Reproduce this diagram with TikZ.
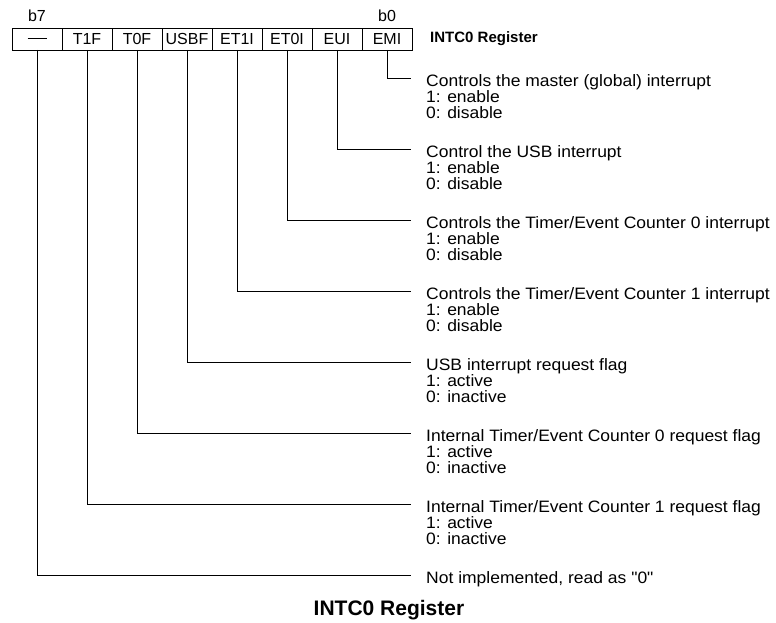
\documentclass[tikz,border=0pt]{standalone}
\usepackage{fontspec}
\setmainfont{Liberation Sans}
\newfontfamily\descfont[FakeStretch=1.06]{Liberation Sans}
\usetikzlibrary{positioning}

\begin{document}
\begin{tikzpicture}[x=1pt,y=-1pt,every node/.style={font=\fontsize{16}{16.5}\selectfont},
  cell/.style={draw,line width=0.9pt,minimum width=50pt,minimum height=22pt,inner sep=0pt,outer sep=0pt},
  desc/.style={align=left,anchor=north west,inner sep=0pt,font=\descfont\fontsize{16.5}{16.2}\selectfont},
  lead/.style={line width=0.8pt}]
\useasboundingbox (0,0) rectangle (776,623);
% register bits b7 ... b0
\node[cell] (c7) at (37,39) {\rule[1pt]{19pt}{0.7pt}};
\foreach \n/\p/\t in {6/7/T1F,5/6/T0F,4/5/USBF,3/4/ET1I,2/3/ET0I,1/2/EUI,0/1/EMI}
  \node[cell,right=0pt of c\p] (c\n) {\t};
\node[above=3pt of c7] (b7) {b7};
\node[above=3pt of c0] (b0) {b0};
\node[anchor=west,inner sep=0pt,font=\bfseries\fontsize{15}{15}\selectfont] (title) at ([xshift=18pt]c0.east) {INTC0 Register};
% bit descriptions
\foreach \n/\t in {0/{Controls the master (global) interrupt\\1: enable\\0: disable},
                   1/{Control the USB interrupt\\1: enable\\0: disable},
                   2/{Controls the Timer/Event Counter 0 interrupt\\1: enable\\0: disable},
                   3/{Controls the Timer/Event Counter 1 interrupt\\1: enable\\0: disable},
                   4/{USB interrupt request flag\\1: active\\0: inactive},
                   5/{Internal Timer/Event Counter 0 request flag\\1: active\\0: inactive},
                   6/{Internal Timer/Event Counter 1 request flag\\1: active\\0: inactive},
                   7/{Not implemented, read as "0"}}{
  \pgfmathsetmacro{\y}{78+71*\n}
  \coordinate (e\n) at (411,\y);
  \node[desc] (d\n) at ([xshift=15pt,yshift=4pt]e\n) {\t};
  \draw[lead] (c\n.south) |- (e\n);
}
\node[font=\bfseries\fontsize{21}{21}\selectfont] (cap) at (389,610) {INTC0 Register};
\end{tikzpicture}
\end{document}
